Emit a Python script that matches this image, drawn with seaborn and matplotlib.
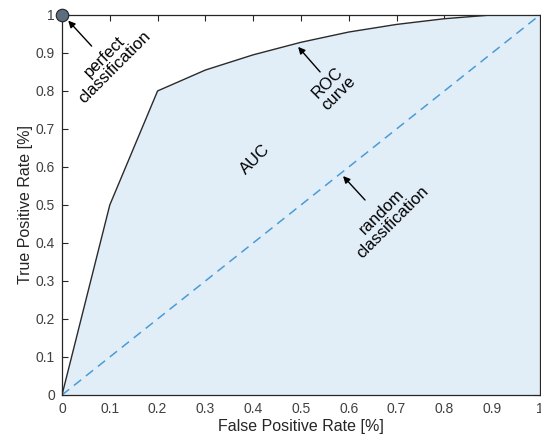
import matplotlib
matplotlib.use("Agg")
import matplotlib.pyplot as plt
import seaborn as sns
import pandas as pd

# ROC curve points
fpr = [0.0, 0.1, 0.2, 0.3, 0.4, 0.5, 0.6, 0.7, 0.8, 0.9, 1.0]
tpr = [0.0, 0.5, 0.8, 0.855, 0.895, 0.928, 0.955, 0.975, 0.99, 1.0, 1.0]
diag = [0.0, 1.0]
ticks = [0, 0.1, 0.2, 0.3, 0.4, 0.5, 0.6, 0.7, 0.8, 0.9, 1]
tick_labels = ["0", "0.1", "0.2", "0.3", "0.4", "0.5", "0.6", "0.7", "0.8", "0.9", "1"]


def roc_figure():
    sns.set_style("white")
    plt.rcParams['font.family'] = ['Liberation Sans', 'DejaVu Sans']

    fig = plt.figure(figsize=(5.41, 4.44), dpi=100)
    ax = fig.add_axes([0.1146, 0.1104, 0.8835, 0.856])

    roc = pd.DataFrame({"fpr": fpr, "tpr": tpr})
    ax.fill_between(roc["fpr"], roc["tpr"], 0, color="#e1eef8", zorder=1)
    sns.lineplot(data=roc, x="fpr", y="tpr", color="#2b2b2b", lw=1.0, ax=ax, zorder=3)
    sns.lineplot(x=diag, y=diag, color="#4a9bd6", lw=1.1, ax=ax, zorder=2,
                 linestyle=(0, (6, 4)))
    ax.plot([0], [1], "o", ms=9, mfc="#5d6d80", mec="#222222", mew=0.8,
            zorder=5, clip_on=False)

    ax.set_xlim(0, 1)
    ax.set_ylim(0, 1)
    ax.set_xticks(ticks)
    ax.set_xticklabels(tick_labels)
    ax.set_yticks(ticks)
    ax.set_yticklabels(tick_labels)
    ax.tick_params(direction="in", length=4, width=0.8, colors="#262626",
                   labelcolor="#404040", labelsize=10, top=True, right=True,
                   bottom=True, left=True, pad=5)
    for s in ax.spines.values():
        s.set_color("#262626")
        s.set_linewidth(0.9)
    ax.set_xlabel("False Positive Rate [%]", fontsize=11.5, color="#262626", labelpad=2)
    ax.set_ylabel("True Positive Rate [%]", fontsize=11.5, color="#262626", labelpad=2)

    arrow = dict(arrowstyle="-|>", color="black", lw=1.0, mutation_scale=10,
                 shrinkA=0, shrinkB=0)
    fs = 12
    ax.annotate("", xy=(0.013, 0.985), xytext=(0.062, 0.918), arrowprops=arrow)
    ax.text(0.10, 0.875, "perfect\nclassification", rotation=45, ha="center",
            va="center", fontsize=fs, rotation_mode="anchor", linespacing=1.0,
            color="black")

    ax.annotate("", xy=(0.494, 0.916), xytext=(0.54, 0.85), arrowprops=arrow)
    ax.text(0.567, 0.808, "ROC\ncurve", rotation=45, ha="center", va="center",
            fontsize=fs, rotation_mode="anchor", linespacing=1.0, color="black")

    ax.text(0.405, 0.62, "AUC", rotation=45, ha="center", va="center",
            fontsize=fs, rotation_mode="anchor", color="black")

    ax.annotate("", xy=(0.588, 0.576), xytext=(0.634, 0.513), arrowprops=arrow)
    ax.text(0.68, 0.468, "random\nclassification", rotation=45, ha="center",
            va="center", fontsize=fs, rotation_mode="anchor", linespacing=1.0,
            color="black")

    fig.savefig("out.png", dpi=100)


if __name__ == "__main__":
    roc_figure()
